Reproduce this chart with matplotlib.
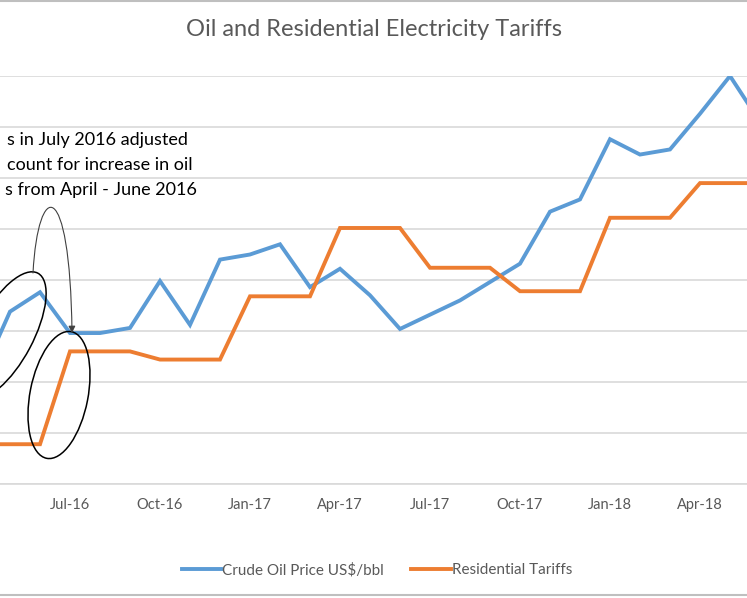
import matplotlib
matplotlib.use("Agg")
import matplotlib.pyplot as plt
import numpy as np
from matplotlib.patches import Ellipse, FancyArrowPatch
from matplotlib.path import Path
from matplotlib.lines import Line2D
from matplotlib.transforms import IdentityTransform

# ---------------- Data ----------------
months = ["Apr-16", "May-16", "Jun-16", "Jul-16", "Aug-16", "Sep-16", "Oct-16", "Nov-16", "Dec-16",
          "Jan-17", "Feb-17", "Mar-17", "Apr-17", "May-17", "Jun-17", "Jul-17", "Aug-17", "Sep-17",
          "Oct-17", "Nov-17", "Dec-17", "Jan-18", "Feb-18", "Mar-18", "Apr-18", "May-18", "Jun-18"]
oil_price = [40.3, 46.9, 48.8, 44.8, 44.8, 45.3, 49.9, 45.6, 52.0,
             52.5, 53.5, 49.3, 51.1, 48.5, 45.2, 46.6, 48.0, 49.8,
             51.6, 56.7, 57.9, 63.8, 62.3, 62.8, 66.3, 70.0, 65.5]
tariffs = [33.9, 33.9, 33.9, 43.0, 43.0, 43.0, 42.2, 42.2, 42.2,
           48.4, 48.4, 48.4, 55.1, 55.1, 55.1, 51.2, 51.2, 51.2,
           48.9, 48.9, 48.9, 56.1, 56.1, 56.1, 59.5, 59.5, 59.5]
tick_labels = ["Jul-16", "Oct-16", "Jan-17", "Apr-17", "Jul-17", "Oct-17", "Jan-18", "Apr-18"]
note_lines = ["s in July 2016 adjusted", "count for increase in oil", "s from April - June 2016"]

# ---------------- Figure ----------------
W, H = 747, 598
plt.rcParams["font.family"] = ["Lato", "DejaVu Sans"]
fig = plt.figure(figsize=(W / 100, H / 100), dpi=100)


def up(y):
    # screen pixel row -> display y (origin at bottom)
    return H - y


ax = fig.add_axes([0, up(484) / H, 1, (484 - 76) / H])
x = np.arange(len(months))
ax.plot(x, oil_price, color="#5B9BD5", lw=2.8, label="Crude Oil Price US$/bbl", solid_joinstyle="miter")
ax.plot(x, tariffs, color="#ED7D31", lw=2.8, label="Residential Tariffs", solid_joinstyle="miter")

# month 3 (Jul-16) sits at pixel 70, 30 px per month
ax.set_xlim(3 - 70 / 30, 3 + (W - 70) / 30)
ax.set_ylim(30, 70)
ax.set_yticks(np.arange(30, 71, 5))
ax.set_yticklabels([])
ax.tick_params(axis="y", length=0)
ax.grid(axis="y", color="#D9D9D9", lw=1.2)
ax.set_axisbelow(True)
ax.set_xticks([months.index(m) for m in tick_labels])
ax.set_xticklabels(tick_labels, fontsize=10.5, color="#595959")
ax.tick_params(axis="x", length=0, pad=10)
for s in ["top", "left", "right"]:
    ax.spines[s].set_visible(False)
ax.spines["bottom"].set_color("#D9D9D9")
ax.spines["bottom"].set_linewidth(1.2)

fig.text(0.5, up(30) / H, "Oil and Residential Electricity Tariffs", ha="center", va="center",
         fontsize=17, color="#595959")

fig.legend(loc="center", bbox_to_anchor=(377 / W, up(570) / H), ncol=2, frameon=False,
           fontsize=11, handlelength=2.6, handletextpad=0.05, columnspacing=1.8,
           labelcolor="#595959")

# ---------------- Annotation ----------------
ident = IdentityTransform()
for txt, xr, yc in zip(note_lines, [188, 193, 197], [140, 165, 190]):
    fig.text(xr / W, up(yc) / H, txt, ha="right", va="center", fontsize=13, color="black")

fig.add_artist(Ellipse((5, up(335)), 56, 140, angle=-28, fill=False, ec="black", lw=1.1,
                       transform=ident))
fig.add_artist(Ellipse((59, up(395)), 58, 129, angle=-11, fill=False, ec="black", lw=1.1,
                       transform=ident))

arc = Path([(33, up(273)), (38, up(180)), (70, up(174)), (72, up(333))],
           [Path.MOVETO, Path.CURVE4, Path.CURVE4, Path.CURVE4])
fig.add_artist(FancyArrowPatch(path=arc, arrowstyle="-|>", mutation_scale=10, color="#404040",
                               lw=0.8, transform=ident))

# chart border showing at top and bottom edges
fig.add_artist(Line2D([0, 1], [1 - 1 / H, 1 - 1 / H], color="#BFBFBF", lw=1.5, transform=fig.transFigure))
fig.add_artist(Line2D([0, 1], [3 / H, 3 / H], color="#BFBFBF", lw=1.5, transform=fig.transFigure))

fig.savefig("out.png", dpi=100)
